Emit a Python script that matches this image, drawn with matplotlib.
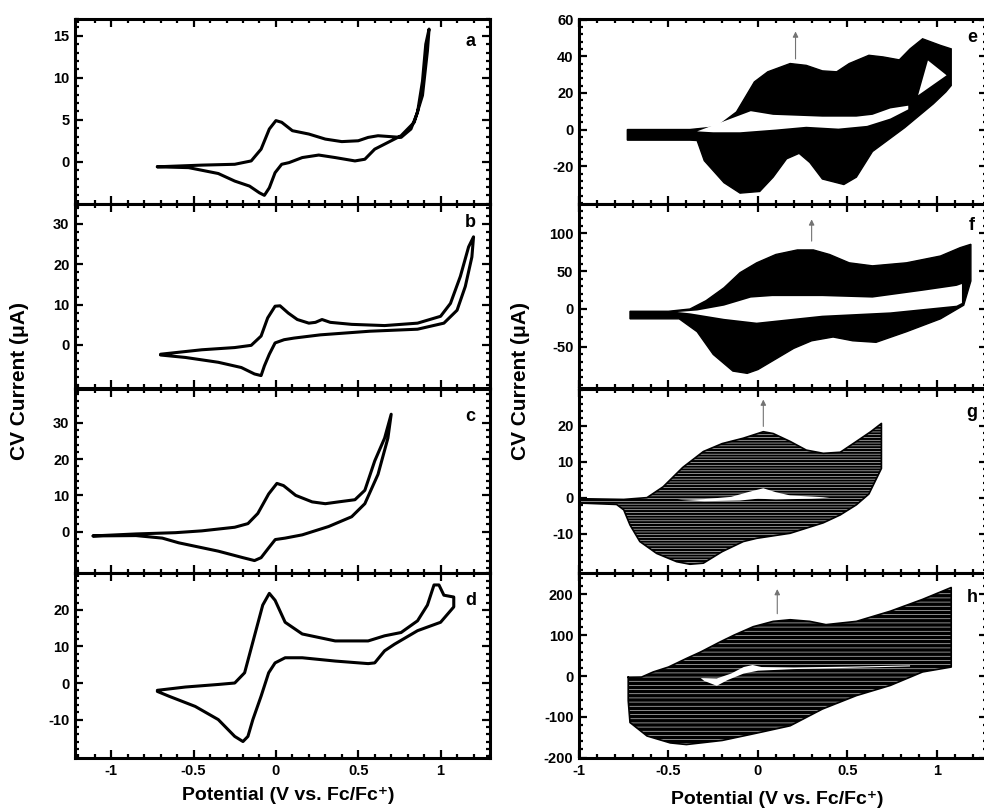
import numpy as np
import matplotlib.pyplot as plt
from matplotlib.ticker import AutoMinorLocator, MultipleLocator

plt.rcParams['font.family'] = ['Liberation Sans', 'DejaVu Sans']
plt.rcParams['font.weight'] = 'bold'
plt.rcParams['axes.unicode_minus'] = False
plt.rcParams['hatch.linewidth'] = 0.5

# ---- left column: single CV scans (forward then reverse) ----
a_fwd_E = [-0.72, -0.45, -0.25, -0.15, -0.09, -0.04, 0.0, 0.035, 0.10, 0.20, 0.30, 0.40, 0.50, 0.56, 0.62, 0.76, 0.82, 0.86, 0.89, 0.91, 0.93]
a_fwd_I = [-0.6, -0.4, -0.3, 0.1, 1.5, 3.9, 4.9, 4.7, 3.7, 3.3, 2.7, 2.4, 2.5, 2.9, 3.1, 2.9, 3.9, 5.9, 9.6, 14.0, 15.8]
a_rev_E = [0.92, 0.89, 0.84, 0.76, 0.68, 0.60, 0.54, 0.48, 0.36, 0.26, 0.16, 0.08, 0.035, -0.005, -0.04, -0.07, -0.10, -0.16, -0.25, -0.35, -0.53, -0.72]
a_rev_I = [13.2, 7.9, 4.7, 3.1, 2.3, 1.5, 0.3, 0.1, 0.5, 0.8, 0.5, -0.1, -0.3, -1.3, -3.1, -4.0, -3.7, -2.9, -2.3, -1.4, -0.7, -0.6]

b_fwd_E = [-0.70, -0.45, -0.25, -0.15, -0.09, -0.05, -0.005, 0.025, 0.075, 0.13, 0.20, 0.24, 0.28, 0.33, 0.46, 0.66, 0.86, 1.00, 1.06, 1.12, 1.17, 1.20]
b_fwd_I = [-2.3, -1.2, -0.65, -0.1, 2.2, 6.7, 9.6, 9.7, 7.9, 6.3, 5.4, 5.6, 6.3, 5.6, 5.1, 4.8, 5.4, 7.1, 10.3, 17.0, 24.3, 26.8]
b_rev_E = [1.19, 1.15, 1.10, 1.02, 0.86, 0.57, 0.27, 0.11, 0.05, -0.005, -0.04, -0.07, -0.09, -0.13, -0.21, -0.35, -0.55, -0.70]
b_rev_I = [21.8, 14.5, 8.6, 5.4, 3.9, 3.4, 2.5, 1.7, 1.3, 0.5, -2.3, -5.2, -7.6, -7.2, -5.6, -4.3, -3.1, -2.5]

c_fwd_E = [-1.11, -0.85, -0.61, -0.45, -0.25, -0.17, -0.11, -0.044, 0.006, 0.046, 0.12, 0.22, 0.30, 0.38, 0.48, 0.54, 0.60, 0.66, 0.70]
c_fwd_I = [-1.2, -0.65, -0.3, 0.2, 1.2, 2.2, 5.0, 10.4, 13.3, 12.7, 10.0, 8.2, 7.7, 8.2, 8.8, 11.4, 19.5, 25.8, 32.4]
c_rev_E = [0.68, 0.62, 0.54, 0.46, 0.32, 0.16, 0.056, -0.004, -0.044, -0.09, -0.13, -0.20, -0.35, -0.59, -0.69, -0.85, -1.11]
c_rev_I = [25.8, 15.8, 7.7, 4.1, 1.4, -0.9, -1.8, -2.2, -4.5, -7.2, -8.0, -7.2, -5.4, -3.1, -1.8, -1.1, -1.2]

d_fwd_E = [-0.72, -0.55, -0.35, -0.25, -0.19, -0.13, -0.08, -0.04, -0.005, 0.056, 0.16, 0.36, 0.56, 0.66, 0.76, 0.86, 0.92, 0.96, 0.99, 1.02, 1.08]
d_fwd_I = [-2.0, -1.1, -0.4, 0.0, 2.8, 12.9, 21.3, 24.5, 22.6, 16.6, 13.4, 11.5, 11.5, 12.9, 13.8, 17.0, 21.3, 26.8, 26.8, 24.0, 23.5]
d_rev_E = [1.08, 1.00, 0.86, 0.72, 0.66, 0.60, 0.56, 0.36, 0.16, 0.056, -0.005, -0.044, -0.09, -0.14, -0.17, -0.20, -0.25, -0.35, -0.49, -0.65, -0.72]
d_rev_I = [20.8, 16.6, 14.3, 10.6, 8.8, 5.5, 5.3, 6.0, 6.9, 6.9, 5.5, 2.8, -3.6, -10.0, -14.6, -16.0, -14.6, -10.0, -6.4, -3.6, -2.3]

# ---- right column: repeated cycling, outer envelope (last cycle) and inner gap (first cycle) ----
e_out_E = [-0.73, -0.38, -0.23, -0.12, -0.02, 0.055, 0.18, 0.27, 0.36, 0.44, 0.51, 0.62, 0.70, 0.79, 0.85, 0.92, 1.02, 1.08,
           1.08, 1.05, 0.98, 0.82, 0.64, 0.55, 0.48, 0.36, 0.29, 0.23, 0.16, 0.085, 0.01, -0.10, -0.19, -0.30, -0.34, -0.38, -0.73]
e_out_I = [0, 0, 1.5, 9.6, 26, 31.5, 36, 35, 32, 31.5, 36, 40.5, 39.6, 38, 44, 49.5, 45.9, 44,
           24, 20.5, 14, 1, -12, -26, -30, -27, -18, -13, -16, -26, -33.8, -34.7, -29, -17, -6, -5.8, -5.8]
e_gap_E = [-0.34, -0.19, -0.04, 0.085, 0.36, 0.55, 0.64, 0.74, 0.84, 0.84, 0.74, 0.61, 0.45, 0.27, 0.10, -0.10, -0.25]
e_gap_I = [-1, 4.5, 10, 8, 7, 7, 8, 11.5, 13, 11, 6, 2, 0.5, 1.5, 0, -1.5, -1.5]
e_notch_E = [0.95, 1.054, 0.895]
e_notch_I = [37.7, 29.6, 18.7]

f_out_E = [-0.715, -0.50, -0.38, -0.29, -0.19, -0.10, -0.007, 0.10, 0.22, 0.31, 0.40, 0.51, 0.64, 0.83, 1.02, 1.13, 1.19,
           1.19, 1.15, 1.02, 0.83, 0.66, 0.53, 0.42, 0.30, 0.20, 0.10, 0.0, -0.06, -0.14, -0.25, -0.34, -0.44, -0.715]
f_out_I = [-3, -3, 0, 11, 28, 48, 61, 72, 78, 78, 72, 61, 57, 61, 70, 81, 85.5,
           37, 5, -13, -30, -44, -42, -37, -42, -52, -66, -80, -85, -82, -60, -30, -13, -13]
f_gap_E = [-0.45, -0.34, -0.19, -0.04, 0.08, 0.36, 0.64, 0.92, 1.11, 1.14, 1.14, 1.11, 0.74, 0.36, -0.007, -0.19, -0.38]
f_gap_I = [-4, -2, 4.4, 15, 17, 17, 15, 24, 30.5, 33, 8, 4.4, -4.4, -8.8, -18, -13, -5.7]

g_out_E = [-1.0, -0.75, -0.62, -0.53, -0.42, -0.305, -0.20, -0.082, 0.03, 0.085, 0.18, 0.27, 0.365, 0.46, 0.55, 0.63, 0.69,
           0.69, 0.62, 0.55, 0.46, 0.365, 0.18, -0.007, -0.082, -0.20, -0.305, -0.38, -0.454, -0.566, -0.66, -0.715, -0.75, -0.79, -1.0]
g_out_I = [-0.3, -0.5, 0, 3, 8.4, 12.8, 15, 16.5, 18.3, 17.8, 15.6, 13.2, 12.3, 12.6, 15.6, 18.3, 20.6,
           8.1, 1.0, -2, -4.8, -7, -9.9, -11.3, -12.2, -15, -18.2, -18.5, -17.8, -15.5, -12.2, -7.6, -3.4, -1.9, -1.5]
g_gap_E = [-0.45, -0.30, -0.15, -0.05, 0.03, 0.10, 0.18, 0.30, 0.40, 0.30, 0.10, 0.0, -0.10, -0.30]
g_gap_I = [-0.6, -0.4, 0.2, 1.6, 2.6, 1.5, 0.6, 0.3, 0.0, -0.3, -0.5, -0.3, -0.8, -1.0]

h_out_E = [-0.725, -0.65, -0.585, -0.50, -0.40, -0.32, -0.21, -0.13, -0.026, 0.085, 0.18, 0.29, 0.38, 0.55, 0.74, 0.92, 1.08,
           1.08, 0.92, 0.74, 0.55, 0.36, 0.18, -0.007, -0.20, -0.40, -0.49, -0.62, -0.715, -0.725]
h_out_I = [-3, -2.5, 10, 22, 43, 59, 84, 101, 121, 134, 138, 134, 126, 134, 159, 188, 217,
           22, 10, -23, -48, -81, -122, -140, -158, -168, -164, -147, -114, -60]
h_gap_E = [-0.32, -0.23, -0.15, -0.08, -0.03, 0.02, 0.20, 0.50, 0.85, 0.85, 0.50, 0.20, 0.0, -0.08, -0.17, -0.23, -0.30]
h_gap_I = [-5, -6, 6, 22, 27, 22, 21, 23, 26, 23.5, 20, 17, 13, 6, -10, -24, -12]

# arrows showing growth with cycling: (potential, from current, to current)
arrows = {'e': (0.21, 37, 55), 'f': (0.30, 86, 122), 'g': (0.03, 19, 28), 'h': (0.108, 146, 220)}

ylims = {'a': (-5, 17), 'b': (-10.8, 35), 'c': (-11.5, 39.5), 'd': (-20.5, 30),
         'e': (-40.5, 60.3), 'f': (-105, 139), 'g': (-21, 30.3), 'h': (-201, 252)}
yticks = {'a': [0, 5, 10, 15], 'b': [0, 10, 20, 30], 'c': [0, 10, 20, 30], 'd': [-10, 0, 10, 20],
          'e': [-20, 0, 20, 40, 60], 'f': [-50, 0, 50, 100], 'g': [-10, 0, 10, 20], 'h': [-200, -100, 0, 100, 200]}
x_ticks = [-1, -0.5, 0, 0.5, 1]
x_tick_labels = ['-1', '-0.5', '0', '0.5', '1']
letter_pos = {'a': 0.88, 'b': 0.90, 'c': 0.85, 'd': 0.855, 'e': 0.90, 'f': 0.88, 'g': 0.87, 'h': 0.87}

W, H = 984, 808
fig = plt.figure(figsize=(W / 100, H / 100), dpi=100)

top, bot = 19, 758
ph = (bot - top) / 4
axes = {}
for col, names, x0, x1, xlim in [(0, 'abcd', 75, 490, (-1.22, 1.30)), (1, 'efgh', 579, 987, (-1.0, 1.28))]:
    for i, n in enumerate(names):
        yb = top + (i + 1) * ph
        ax = fig.add_axes([x0 / W, 1 - yb / H, (x1 - x0) / W, ph / H])
        ax.set_xlim(*xlim)
        ax.set_ylim(*ylims[n])
        ax.set_xticks(x_ticks)
        ax.set_xticklabels(x_tick_labels)
        ax.xaxis.set_minor_locator(MultipleLocator(0.1))
        ax.set_yticks(yticks[n])
        ax.yaxis.set_minor_locator(AutoMinorLocator(5))
        ax.tick_params(which='both', direction='in', top=True, right=True, width=1.6, labelsize=10.5, pad=4)
        ax.tick_params(which='major', length=6)
        ax.tick_params(which='minor', length=3)
        if i < 3:
            ax.tick_params(labelbottom=False)
        for s in ax.spines.values():
            s.set_linewidth(2.2)
        for lab in ax.get_xticklabels() + ax.get_yticklabels():
            lab.set_fontweight('bold')
        xl = 0.953 if col == 0 else 0.963
        ax.text(xl, letter_pos[n], n, transform=ax.transAxes, ha='center', va='center',
                fontsize=13, fontweight='bold')
        axes[n] = ax

left_data = {'a': (a_fwd_E, a_fwd_I, a_rev_E, a_rev_I), 'b': (b_fwd_E, b_fwd_I, b_rev_E, b_rev_I),
             'c': (c_fwd_E, c_fwd_I, c_rev_E, c_rev_I), 'd': (d_fwd_E, d_fwd_I, d_rev_E, d_rev_I)}
for n, (fe, fi, re_, ri) in left_data.items():
    axes[n].plot(fe + re_, fi + ri, color='black', lw=2.2, solid_joinstyle='round', solid_capstyle='round')

# dense bands
axes['e'].fill(e_out_E, e_out_I, color='black', lw=1)
axes['e'].fill(e_gap_E, e_gap_I, color='white', lw=0)
axes['e'].fill(e_notch_E, e_notch_I, color='white', lw=0)

axes['f'].fill(f_out_E, f_out_I, color='black', lw=1)
axes['f'].fill(f_gap_E, f_gap_I, color='white', lw=0)


def striped(ax, E, I, hatch):
    # black band with thin light gaps between the many cycles
    polys = ax.fill(E, I, facecolor='black', edgecolor='0.85', hatch=hatch, lw=0)
    for p in polys:
        if hasattr(p, 'set_hatch_linewidth'):
            p.set_hatch_linewidth(0.45)
    ax.plot(E + E[:1], I + I[:1], color='black', lw=1.2)


striped(axes['g'], g_out_E, g_out_I, '------')
axes['g'].fill(g_gap_E, g_gap_I, color='white', lw=0)

striped(axes['h'], h_out_E, h_out_I, '----')
axes['h'].fill(h_gap_E, h_gap_I, color='white', lw=0)

for n, (ex, i0, i1) in arrows.items():
    axes[n].annotate('', xy=(ex, i1), xytext=(ex, i0),
                     arrowprops=dict(arrowstyle='-|>', color='0.45', lw=0.8, mutation_scale=8))

fig.text(20 / W, 1 - 381 / H, 'CV Current (μA)', rotation=90, ha='center', va='center', fontsize=15, fontweight='bold')
fig.text(521 / W, 1 - 381 / H, 'CV Current (μA)', rotation=90, ha='center', va='center', fontsize=15, fontweight='bold')
fig.text(288 / W, 1 - 796 / H, 'Potential (V vs. Fc/Fc⁺)', ha='center', va='center', fontsize=14, fontweight='bold')
fig.text(777 / W, 1 - 799 / H, 'Potential (V vs. Fc/Fc⁺)', ha='center', va='center', fontsize=14, fontweight='bold')

fig.savefig('out.png', dpi=100)
